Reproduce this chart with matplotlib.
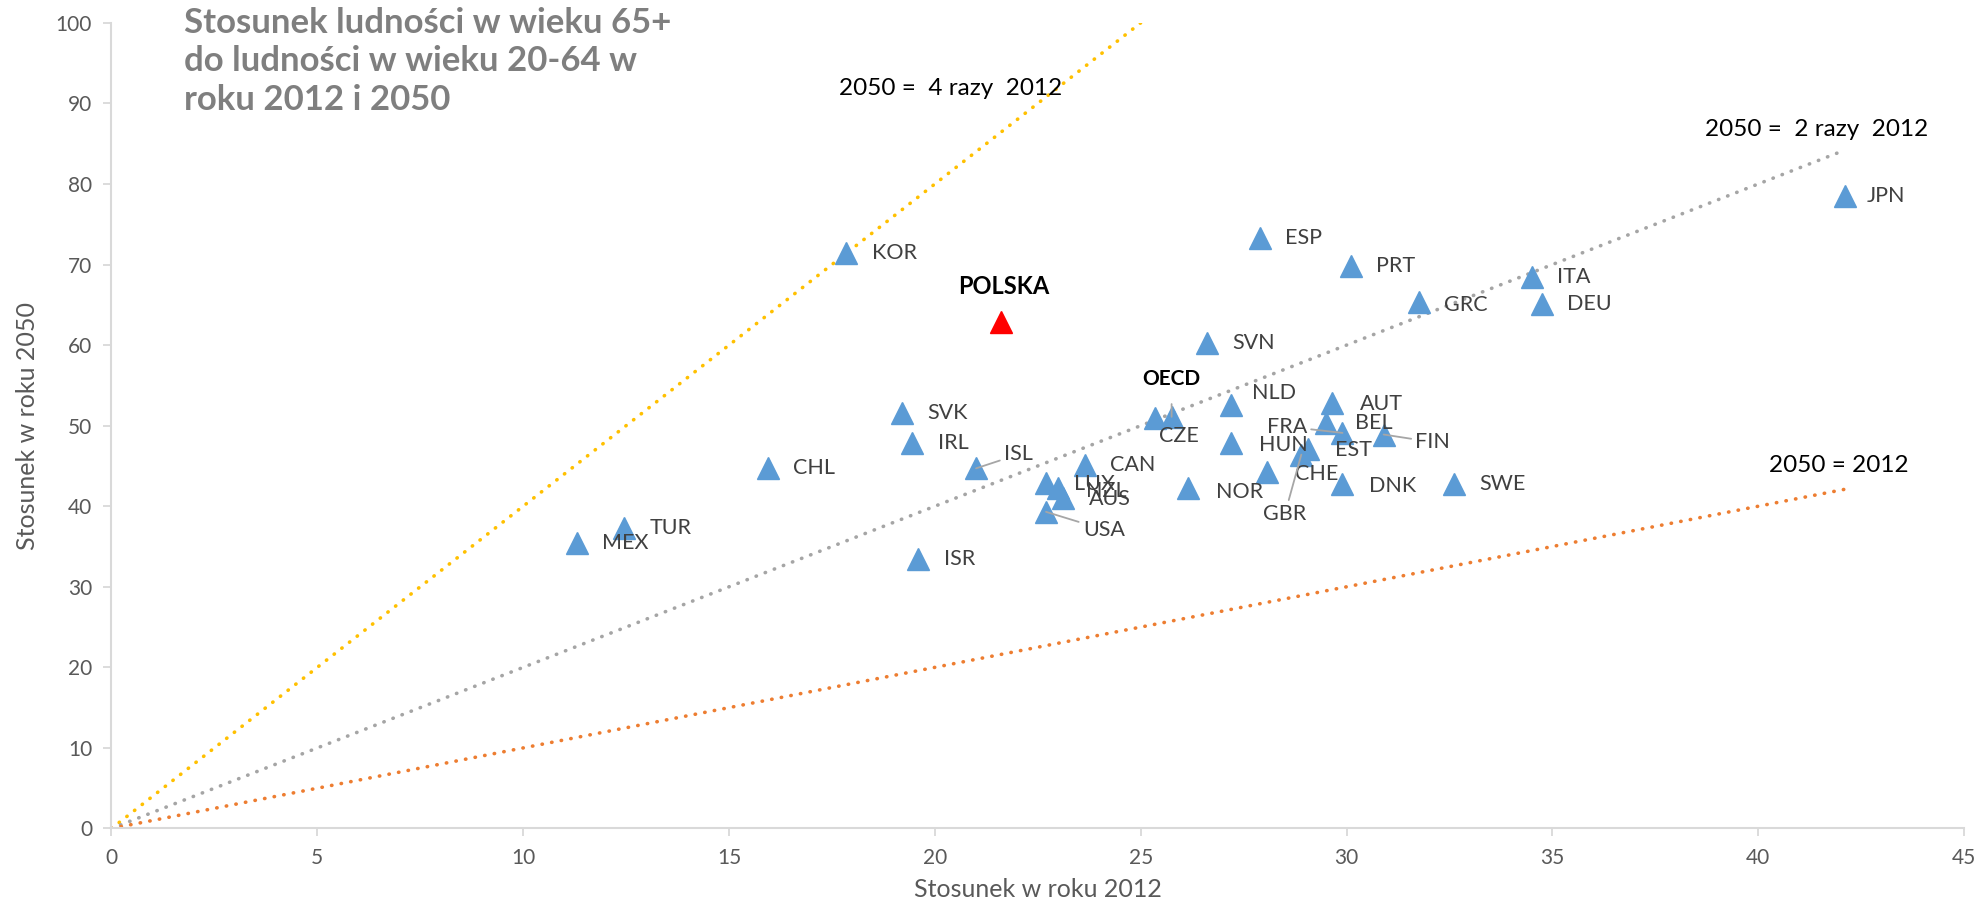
import matplotlib
matplotlib.use("Agg")
import matplotlib.pyplot as plt

plt.rcParams['font.family'] = ['Lato', 'DejaVu Sans']

# dane: stosunek ludności 65+ do 20-64 (2012 i 2050)
kraje = ['AUS', 'AUT', 'BEL', 'CAN', 'CHL', 'CZE', 'DNK', 'EST', 'FIN', 'FRA',
         'DEU', 'GRC', 'HUN', 'ISL', 'IRL', 'ISR', 'ITA', 'JPN', 'KOR', 'LUX',
         'MEX', 'NLD', 'NZL', 'NOR', 'POLSKA', 'PRT', 'SVK', 'SVN', 'ESP', 'SWE',
         'CHE', 'TUR', 'GBR', 'USA', 'OECD']
r2012 = [23.1, 29.65, 29.5, 23.65, 15.95, 25.35, 29.9, 29.07, 30.9, 29.9,
         34.75, 31.75, 27.2, 21.0, 19.45, 19.6, 34.5, 42.1, 17.85, 22.7,
         11.3, 27.2, 23.0, 26.15, 21.6, 30.1, 19.2, 26.6, 27.9, 32.6,
         28.06, 12.45, 28.9, 22.7, 25.75]
r2050 = [41.0, 52.8, 50.3, 45.1, 44.8, 50.9, 42.7, 47.1, 48.9, 49.1,
         65.1, 65.3, 47.8, 44.7, 47.8, 33.5, 68.4, 78.5, 71.4, 42.9,
         35.4, 52.6, 42.2, 42.2, 62.9, 69.8, 51.6, 60.2, 73.3, 42.7,
         44.3, 37.3, 46.4, 39.3, 51.1]

# linie odniesienia: 2050 = k * 2012
mnozniki = [4, 2, 1]
kolory_linii = ['#FFC000', '#A5A5A5', '#ED7D31']
x_linii = [0, 42.1]

# przesunięcia etykiet (piksele ekranu: dx w prawo, dy w dół)
przes = {
    'CZE': (3, 14), 'LUX': (22, 1), 'NZL': (22, 2), 'AUS': (21, 1),
    'USA': (29, 14), 'ISL': (22, -11), 'NLD': (16, -9), 'HUN': (22, 1),
    'AUT': (22, 1), 'BEL': (23, 0), 'FRA': (-28, -5), 'EST': (21, 1),
    'FIN': (25, 6), 'CHE': (22, 2), 'GBR': (-13, 47), 'NOR': (22, 3),
    'DNK': (21, 1), 'GRC': (20, 2), 'JPN': (17, 0),
}
z_linia = ['USA', 'ISL', 'FRA', 'FIN', 'GBR']
k = 0.912  # piksele ekranu -> punkty

fig = plt.figure(figsize=(19.87, 9.02), dpi=100)
ax = fig.add_axes([0.0561, 0.0815, 0.9324, 0.8932])

for m, c in zip(mnozniki, kolory_linii):
    ax.plot(x_linii, [m * v for v in x_linii], color=c, lw=2.6,
            linestyle=(0, (0.1, 2.6)), dash_capstyle='round', zorder=1)

for n, x, y in zip(kraje, r2012, r2050):
    kol = 'red' if n == 'POLSKA' else '#5B9BD5'
    ax.plot(x, y, marker='^', markersize=16, color=kol, linestyle='none', zorder=3)
    if n == 'POLSKA':
        ax.annotate(n, (x, y), xytext=(2 * k, 28 * k), textcoords='offset points',
                    ha='center', va='center', fontsize=17, fontweight='bold',
                    color='black', zorder=4)
        continue
    if n == 'OECD':
        ax.annotate(n, (x, y), xytext=(0, 30 * k), textcoords='offset points',
                    ha='center', va='center', fontsize=15, fontweight='bold',
                    color='black', zorder=4,
                    arrowprops=dict(arrowstyle='-', color='#A6A6A6', lw=1.3,
                                    shrinkA=9, shrinkB=0))
        continue
    dx, dy = przes.get(n, (20, 0))
    ha = 'right' if dx < 0 else 'left'
    if n == 'GBR':
        ha = 'center'
    ap = None
    if n in z_linia:
        ap = dict(arrowstyle='-', color='#A6A6A6', lw=1.3, shrinkA=1, shrinkB=0)
    ax.annotate(n, (x, y), xytext=(dx * k, -dy * k), textcoords='offset points',
                ha=ha, va='center', fontsize=15.5, color='#404040', zorder=4,
                arrowprops=ap)

ax.text(17.67, 91.8, '2050 =  4 razy  2012', fontsize=17.5, color='black', va='center')
ax.text(38.7, 86.8, '2050 =  2 razy  2012', fontsize=17.5, color='black', va='center')
ax.text(40.26, 45.0, '2050 = 2012', fontsize=17.5, color='black', va='center')

ax.text(0.039, 1.02, 'Stosunek ludności w wieku 65+\ndo ludności w wieku 20-64 w\nroku 2012 i 2050',
        transform=ax.transAxes, fontsize=25, fontweight='bold', color='#7F7F7F',
        va='top', ha='left', linespacing=1.25)

ax.set_xlim(0, 45)
ax.set_ylim(0, 100)
ax.set_xticks(range(0, 46, 5))
ax.set_yticks(range(0, 101, 10))
ax.set_xlabel('Stosunek w roku 2012', fontsize=18, color='#595959')
ax.set_ylabel('Stosunek w roku 2050', fontsize=18, color='#595959')
ax.xaxis.set_label_coords(0.5, -0.061)
ax.yaxis.set_label_coords(-0.039, 0.5)
ax.tick_params(axis='both', labelsize=15, colors='#595959', length=6, width=1.3,
               color='#D9D9D9', pad=8)
for s in ['top', 'right']:
    ax.spines[s].set_visible(False)
for s in ['left', 'bottom']:
    ax.spines[s].set_color('#D9D9D9')
    ax.spines[s].set_linewidth(1.5)
ax.spines['bottom'].set_zorder(5)

fig.savefig('out.png', dpi=100)
